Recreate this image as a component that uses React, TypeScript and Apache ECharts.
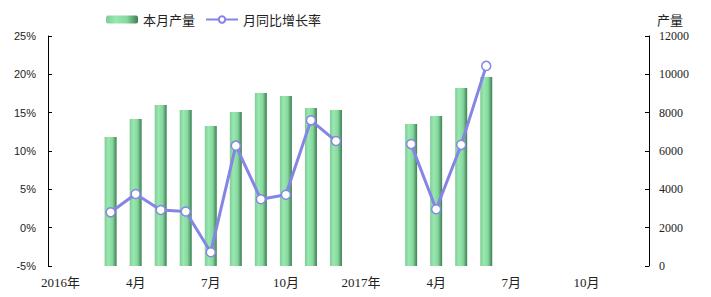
import React, { useEffect, useRef } from "react";
import * as echarts from "echarts";

const categories = [
  "2016年", "2月", "3月", "4月", "5月", "6月", "7月", "8月", "9月", "10月", "11月", "12月",
  "2017年", "2月", "3月", "4月", "5月", "6月", "7月", "8月", "9月", "10月", "11月", "12月",
];
const production: (number | null)[] = [
  null, null, 6730, 7670, 8400, 8140, 7300, 8040, 9030, 8870, 8240, 8140,
  null, null, 7410, 7830, 9290, 9860, null, null, null, null, null, null,
];
const growth: (number | null)[] = [
  null, null, 2.0, 4.4, 2.3, 2.1, -3.2, 10.7, 3.7, 4.3, 14.0, 11.3,
  null, null, 10.9, 2.4, 10.8, 21.1, null, null, null, null, null, null,
];
const leftTicks = { min: -5, max: 25, interval: 5 };
const rightTicks = { min: 0, max: 12000, interval: 2000 };

const serif = "'Liberation Serif', 'Noto Sans CJK SC', serif";
const sans = "'Liberation Sans', Arial, sans-serif";
const cjk = "'Noto Sans CJK SC', sans-serif";

export default function App() {
  const ref = useRef<HTMLDivElement>(null);
  useEffect(() => {
    if (!ref.current) return;
    const chart = echarts.init(ref.current, undefined, { renderer: "svg" });
    const barGrad = new echarts.graphic.LinearGradient(0, 0, 1, 0, [
      { offset: 0, color: "#80cc96" },
      { offset: 0.3, color: "#98e8b0" },
      { offset: 0.65, color: "#86d89e" },
      { offset: 1, color: "#3e7e52" },
    ]);
    chart.setOption({
      animation: false,
      grid: { left: 48, right: 62, top: 36, bottom: 31, containLabel: false },
      legend: {
        top: 8,
        left: 101,
        itemWidth: 32,
        itemHeight: 8,
        itemGap: 10,
        textStyle: { fontSize: 13, color: "#222", fontFamily: cjk },
        data: [{ name: "本月产量" }, { name: "月同比增长率" }],
      },
      xAxis: {
        type: "category",
        data: categories,
        axisLine: { show: false },
        axisTick: { show: false },
        axisLabel: {
          interval: 2,
          fontSize: 13,
          color: "#222",
          fontFamily: serif,
          margin: 10,
        },
      },
      yAxis: [
        {
          type: "value",
          min: leftTicks.min,
          max: leftTicks.max,
          interval: leftTicks.interval,
          splitLine: { show: false },
          axisLine: { show: true, lineStyle: { color: "#000", width: 1 } },
          axisTick: { show: true, inside: true, length: 4, lineStyle: { color: "#000" } },
          axisLabel: {
            formatter: (v: number) => v + "%",
            fontSize: 11,
            color: "#222",
            fontFamily: sans,
            margin: 12,
          },
        },
        {
          type: "value",
          name: "产量",
          nameGap: 10,
          nameTextStyle: { fontSize: 13, color: "#222", fontFamily: cjk, align: "left", padding: [0, 0, 0, 8] },
          min: rightTicks.min,
          max: rightTicks.max,
          interval: rightTicks.interval,
          splitLine: { show: false },
          axisLine: { show: true, lineStyle: { color: "#000", width: 1 } },
          axisTick: { show: true, inside: true, length: 4, lineStyle: { color: "#000" } },
          axisLabel: {
            formatter: (v: number) => String(v),
            fontSize: 12,
            color: "#222",
            fontFamily: serif,
            margin: 10,
          },
        },
      ],
      series: [
        {
          name: "本月产量",
          type: "bar",
          yAxisIndex: 1,
          data: production,
          barWidth: 12,
          itemStyle: { color: barGrad },
        },
        {
          name: "月同比增长率",
          type: "line",
          yAxisIndex: 0,
          data: growth,
          connectNulls: false,
          symbol: "circle",
          symbolSize: 9,
          lineStyle: { color: "#8585e6", width: 3 },
          itemStyle: { color: "#ffffff", borderColor: "#8585e6", borderWidth: 1.5 },
        },
      ],
    });
    return () => chart.dispose();
  }, []);
  return <div ref={ref} style={{ width: 711, height: 297, position: "absolute", left: 0, top: 0 }} />;
}
